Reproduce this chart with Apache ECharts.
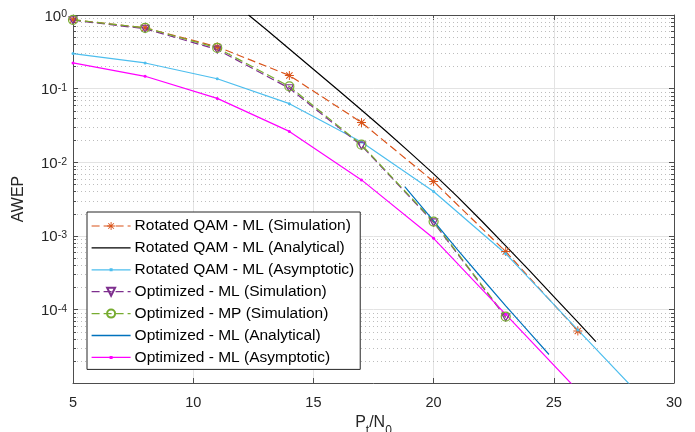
<!DOCTYPE html>
<html>
<head>
<meta charset="utf-8">
<title>AWEP</title>
<script src="https://cdn.jsdelivr.net/npm/echarts/dist/echarts.min.js"></script>
<style>
  html, body { margin: 0; padding: 0; background: #fff; }
  #chart { width: 695px; height: 432px; }
</style>
</head>
<body>
<div id="chart"></div>
<script>
'use strict';

// ---- data ----
var simX = [5, 8, 11, 14, 17, 20, 23, 26];
var rqamSim = [0.86, 0.67, 0.37, 0.151, 0.0347, 0.00546, 0.00061, 0.000051];

var rqamAnaX = [12.3, 13, 14, 15, 16, 17, 18, 19, 20, 21, 22, 23, 24, 25, 26, 26.75];
var rqamAna = [1.0, 0.651, 0.3455, 0.1834, 0.0971, 0.0512, 0.02676, 0.01372, 0.00695, 0.00338,
  0.00159, 0.000728, 0.000333, 0.000149, 0.0000671, 0.0000365];

var rqamAsyX = [5, 8, 11, 14, 17, 20, 23, 26, 29];
var rqamAsy = [0.299, 0.223, 0.136, 0.0624, 0.0188, 0.00399, 0.000571, 0.0000526, 0.0000049];

var optX = [5, 8, 11, 14, 17, 20, 23];
var optMlSim = [0.85, 0.65, 0.34, 0.101, 0.0168, 0.00152, 0.000078];
var optMpSim = [0.86, 0.67, 0.357, 0.107, 0.0173, 0.00156, 0.00008];

var optAnaX = [18.8, 19, 20, 21, 22, 23, 24, 24.8];
var optAna = [0.00467, 0.00389, 0.00159, 0.000646, 0.000267, 0.000112, 0.0000479, 0.0000244];

var optAsyX = [5, 8, 11, 14, 17, 20, 23, 26];
var optAsy = [0.223, 0.147, 0.0736, 0.0262, 0.00575, 0.000925, 0.0000855, 0.0000079];

var seriesNames = [
  'Rotated QAM - ML (Simulation)',
  'Rotated QAM - ML (Analytical)',
  'Rotated QAM - ML (Asymptotic)',
  'Optimized - ML (Simulation)',
  'Optimized - MP (Simulation)',
  'Optimized - ML (Analytical)',
  'Optimized - ML (Asymptotic)'
];

// axis ticks
var xMin = 5, xMax = 30, xStep = 5;
var yMin = 1e-5, yMax = 1;
var decades = [1e-5, 1e-4, 1e-3, 1e-2, 1e-1];
var minorSteps = [2, 3, 4, 5, 6, 7, 8, 9];

var colors = {
  orange: '#D95319', black: '#000000', sky: '#4DBEEE', purple: '#7E2F8E',
  green: '#77AC30', blue: '#0072BD', magenta: '#FF00FF'
};
var axisColor = '#4d4d4d';
var textColor = '#262626';
var font = '"Liberation Sans", Arial, Helvetica, sans-serif';

var asterisk = 'path://M8.9 0 L11.1 0 L11.1 20 L8.9 20 Z M0 8.9 L20 8.9 L20 11.1 L0 11.1 Z ' +
  'M2.2 3.8 L3.8 2.2 L17.8 16.2 L16.2 17.8 Z M16.2 2.2 L17.8 3.8 L3.8 17.8 L2.2 16.2 Z';
var triDown = 'path://M0 0 L10 0 L5 9 Z';
var dotIcon = 'path://M0 6.4 L39 6.4 L39 7.6 L0 7.6 Z M18 5.5 L21 5.5 L21 8.5 L18 8.5 Z';
var lineIcon = 'path://M0 0 L39 0 L39 1.3 L0 1.3 Z';

function pairs(xs, ys) {
  return xs.map(function (x, i) { return [x, ys[i]]; });
}

var minorVals = [];
decades.forEach(function (d) {
  minorSteps.forEach(function (m) { minorVals.push([xMin, d * m]); });
});

function renderMinor(params, api) {
  var cs = params.coordSys;
  var y = Math.round(api.coord([xMin, api.value(1)])[1]) + 0.5;
  return {
    type: 'group',
    children: [
      { type: 'line', shape: { x1: cs.x, y1: y, x2: cs.x + cs.width, y2: y },
        style: { stroke: '#bdbdbd', lineWidth: 1, lineDash: [1, 3], fill: null } },
      { type: 'line', shape: { x1: cs.x, y1: y, x2: cs.x + 3, y2: y },
        style: { stroke: axisColor, lineWidth: 1, fill: null } },
      { type: 'line', shape: { x1: cs.x + cs.width - 3, y1: y, x2: cs.x + cs.width, y2: y },
        style: { stroke: axisColor, lineWidth: 1, fill: null } }
    ]
  };
}

function expLabel(v) {
  var e = Math.round(Math.log10(v));
  if (e <= -5) return '';
  return '{b|10}{e|' + e + '}';
}

function lineSeries(name, data, color, opts) {
  var s = {
    name: name,
    type: 'line',
    data: data,
    color: color,
    symbol: 'none',
    showSymbol: true,
    lineStyle: { color: color, width: 1.2, type: 'solid' },
    itemStyle: { color: color },
    emphasis: { disabled: true },
    clip: true
  };
  for (var k in opts) s[k] = opts[k];
  return s;
}

var option = {
  animation: false,
  backgroundColor: '#fff',
  textStyle: { fontFamily: font },
  grid: { left: 73, right: 21, top: 15, bottom: 49, containLabel: false, outerBoundsMode: 'none' },
  legend: {
    orient: 'vertical',
    left: 87,
    top: 212,
    padding: [6, 6, 4, 4],
    itemGap: 5.9,
    itemWidth: 39,
    itemHeight: 10,
    selectedMode: false,
    backgroundColor: '#fff',
    borderColor: '#262626',
    borderWidth: 1,
    borderRadius: 0,
    lineStyle: { width: 1.2 },
    textStyle: { fontFamily: font, fontSize: 15.5, color: '#000', padding: [0, 0, 0, -1] },
    data: seriesNames.map(function (n, i) {
      if (i === 2 || i === 6) return { name: n, icon: dotIcon };
      if (i === 1 || i === 5) return { name: n, icon: lineIcon };
      return { name: n };
    })
  },
  xAxis: [{
    type: 'value',
    min: xMin, max: xMax, interval: xStep,
    name: '{a|P}{s|t}{a|/N}{s|0}',
    nameLocation: 'middle',
    nameGap: 25,
    nameTextStyle: {
      rich: {
        a: { fontFamily: font, fontSize: 16, color: textColor, lineHeight: 22, verticalAlign: 'top' },
        s: { fontFamily: font, fontSize: 12, color: textColor, lineHeight: 22, verticalAlign: 'bottom' }
      }
    },
    axisLine: { show: true, onZero: false, lineStyle: { color: axisColor, width: 1 } },
    axisTick: { show: true, inside: true, length: 5, lineStyle: { color: axisColor } },
    axisLabel: { color: textColor, fontSize: 14.5, margin: 12, fontFamily: font },
    splitLine: { show: true, lineStyle: { color: '#e3e3e3', width: 1 } }
  }, {
    type: 'value',
    position: 'top',
    min: xMin, max: xMax, interval: xStep,
    axisLine: { show: true, onZero: false, lineStyle: { color: axisColor, width: 1 } },
    axisTick: { show: true, inside: true, length: 5, lineStyle: { color: axisColor } },
    axisLabel: { show: false },
    splitLine: { show: false }
  }],
  yAxis: [{
    type: 'log',
    logBase: 10,
    min: yMin, max: yMax,
    splitNumber: 5,
    name: 'AWEP',
    nameLocation: 'middle',
    nameRotate: 90,
    nameGap: 46,
    nameTextStyle: { fontFamily: font, fontSize: 16, color: textColor },
    axisLine: { show: true, onZero: false, lineStyle: { color: axisColor, width: 1 } },
    axisTick: { show: true, inside: true, length: 5, lineStyle: { color: axisColor } },
    axisLabel: {
      margin: 6,
      formatter: expLabel,
      rich: {
        b: { fontFamily: font, fontSize: 15, color: textColor, lineHeight: 18, verticalAlign: 'bottom' },
        e: { fontFamily: font, fontSize: 10.5, color: textColor, lineHeight: 18, verticalAlign: 'top', padding: [3, 0, 0, 0] }
      }
    },
    splitLine: { show: true, lineStyle: { color: '#e3e3e3', width: 1 } }
  }, {
    type: 'log',
    logBase: 10,
    position: 'right',
    min: yMin, max: yMax,
    splitNumber: 5,
    axisLine: { show: true, onZero: false, lineStyle: { color: axisColor, width: 1 } },
    axisTick: { show: true, inside: true, length: 5, lineStyle: { color: axisColor } },
    axisLabel: { show: false },
    splitLine: { show: false }
  }],
  series: [
    {
      name: 'minor-grid',
      type: 'custom',
      data: minorVals,
      renderItem: renderMinor,
      silent: true,
      z: 1,
      clip: false,
      encode: { x: 0, y: 1 }
    },
    lineSeries(seriesNames[0], pairs(simX, rqamSim), colors.orange, {
      symbol: asterisk, symbolSize: 9,
      lineStyle: { color: colors.orange, width: 1.2, type: [8, 4] }
    }),
    lineSeries(seriesNames[1], pairs(rqamAnaX, rqamAna), colors.black, {}),
    lineSeries(seriesNames[2], pairs(rqamAsyX, rqamAsy), colors.sky, {
      symbol: 'circle', symbolSize: 3
    }),
    lineSeries(seriesNames[3], pairs(optX, optMlSim), colors.purple, {
      symbol: triDown, symbolSize: [8, 7],
      itemStyle: { color: 'rgba(0,0,0,0)', borderColor: colors.purple, borderWidth: 1.2 },
      lineStyle: { color: colors.purple, width: 1.2, type: [8, 4] }
    }),
    lineSeries(seriesNames[4], pairs(optX, optMpSim), colors.green, {
      symbol: 'circle', symbolSize: 9,
      itemStyle: { color: 'rgba(0,0,0,0)', borderColor: colors.green, borderWidth: 1.2 },
      lineStyle: { color: colors.green, width: 1.2, type: [8, 4] }
    }),
    lineSeries(seriesNames[5], pairs(optAnaX, optAna), colors.blue, {}),
    lineSeries(seriesNames[6], pairs(optAsyX, optAsy), colors.magenta, {
      symbol: 'circle', symbolSize: 3
    })
  ]
};

var chart = echarts.init(document.getElementById('chart'), null, { renderer: 'canvas' });
chart.setOption(option);
</script>
</body>
</html>
